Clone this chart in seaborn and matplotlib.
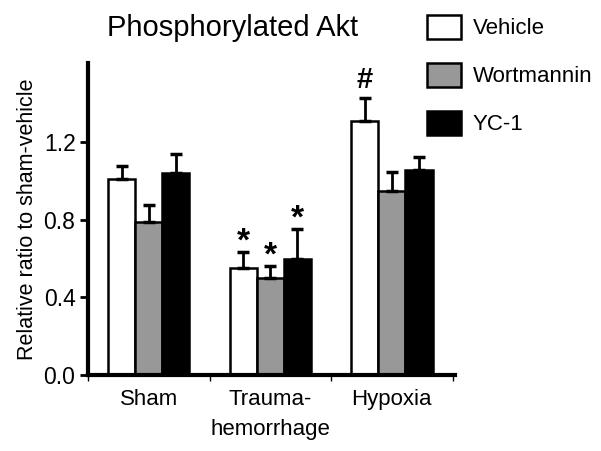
import numpy as np
import pandas as pd
import matplotlib
matplotlib.use('Agg')
import matplotlib.pyplot as plt
import seaborn as sns
from matplotlib.patches import Patch

groups = ['Sham', 'Trauma-\nhemorrhage', 'Hypoxia']
treatments = ['Vehicle', 'Wortmannin', 'YC-1']
colors = ['white', '#989898', 'black']

# mean values per treatment, in group order
vehicle = [1.01, 0.55, 1.31]
wortmannin = [0.79, 0.50, 0.95]
yc1 = [1.04, 0.60, 1.06]

# upper error (sem) per treatment
vehicle_err = [0.07, 0.085, 0.12]
wortmannin_err = [0.085, 0.065, 0.095]
yc1_err = [0.10, 0.155, 0.065]

# significance marks
vehicle_marks = ['', '*', '#']
wortmannin_marks = ['', '*', '']
yc1_marks = ['', '*', '']

df = pd.DataFrame({
    'group': groups * 3,
    'treatment': np.repeat(treatments, 3),
    'value': vehicle + wortmannin + yc1,
    'err': vehicle_err + wortmannin_err + yc1_err,
    'mark': vehicle_marks + wortmannin_marks + yc1_marks,
})

sns.set_style('ticks')
plt.rcParams['font.family'] = ['Liberation Sans', 'DejaVu Sans']
plt.rcParams['text.color'] = 'black'
plt.rcParams['axes.labelcolor'] = 'black'
plt.rcParams['xtick.color'] = 'black'
plt.rcParams['ytick.color'] = 'black'

fig = plt.figure(figsize=(6.01, 4.51), dpi=100)
ax = fig.add_axes([88/601, 1 - 375/451, (455 - 88)/601, (375 - 63)/451])

sns.barplot(data=df, x='group', y='value', hue='treatment', order=groups,
            hue_order=treatments, palette=colors, edgecolor='black',
            linewidth=1.8, width=0.67, errorbar=None, legend=False, ax=ax)

for cont, t in zip(ax.containers, treatments):
    sub = df[df['treatment'] == t].set_index('group').loc[groups]
    xs = [b.get_x() + b.get_width() / 2 for b in cont]
    ys = sub['value'].values
    es = sub['err'].values
    ax.errorbar(xs, ys, yerr=[np.zeros(len(es)), es], fmt='none', ecolor='black',
                elinewidth=2, capsize=4.5, capthick=2.5, zorder=1)
    for x, y, e, m in zip(xs, ys, es, sub['mark'].values):
        if m:
            ax.annotate(m, (x, y + e), xytext=(0, 3 if m == '#' else -4),
                        textcoords='offset points', ha='center', va='bottom',
                        fontsize=21 if m == '#' else 24, fontweight='bold')

ax.set_ylim(0, 1.61)
ax.set_xlim(-0.5, 2.52)
ax.set_yticks([0.0, 0.4, 0.8, 1.2])
ax.set_yticklabels(['0.0', '0.4', '0.8', '1.2'])
ax.set_xticks([-0.5, 0.5, 1.5, 2.5], minor=True)
ax.tick_params(axis='x', which='major', length=0, pad=10, labelsize=16)
ax.tick_params(axis='x', which='minor', length=4, width=1, direction='out')
ax.tick_params(axis='y', length=6, width=2, labelsize=16.5, pad=3)
for lab in ax.get_xticklabels():
    lab.set_linespacing(1.55)
ax.set_xlabel('')
ax.set_ylabel('Relative ratio to sham-vehicle', fontsize=15.5, labelpad=4)
for s in ['top', 'right']:
    ax.spines[s].set_visible(False)
for s in ['left', 'bottom']:
    ax.spines[s].set_linewidth(3)
    ax.spines[s].set_color('black')

fig.text(233/601, 1 - 36/451, 'Phosphorylated Akt', ha='center', va='baseline', fontsize=21)

handles = [Patch(facecolor=c, edgecolor='black', linewidth=1.8) for c in colors]
fig.legend(handles, treatments, loc='upper left', bbox_to_anchor=(427/601, 1 - 15/451),
           frameon=False, fontsize=16, handlelength=1.52, handleheight=1.29,
           labelspacing=1.05, handletextpad=0.55, borderpad=0, borderaxespad=0)

fig.savefig('out.png', dpi=100)
